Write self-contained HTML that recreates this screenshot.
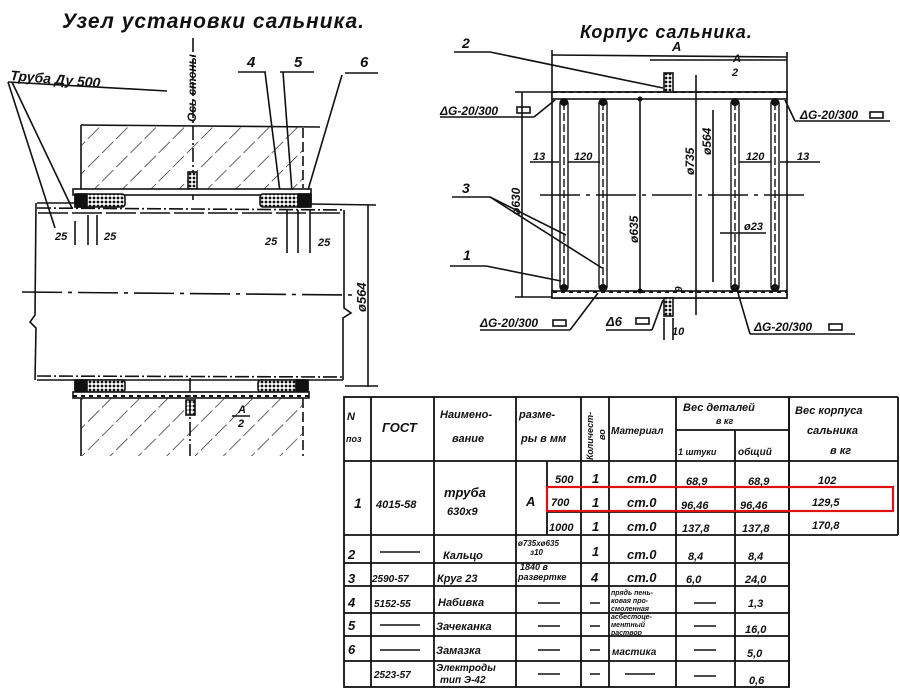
<!DOCTYPE html>
<html><head><meta charset="utf-8"><style>
body{margin:0;background:#fff;}
svg{display:block;}
text{font-family:"Liberation Sans",sans-serif;font-style:italic;font-weight:bold;fill:#111;}
</style></head><body>
<svg width="900" height="700" viewBox="0 0 900 700" xmlns="http://www.w3.org/2000/svg">
<defs>
<pattern id="h" width="20" height="20" patternUnits="userSpaceOnUse" patternTransform="rotate(45)">
<line x1="0" y1="0" x2="0" y2="20" stroke="#222" stroke-width="1.4" stroke-dasharray="16 4"/></pattern>
<pattern id="x" width="4" height="4" patternUnits="userSpaceOnUse">
<rect width="4" height="4" fill="#fff"/><circle cx="2" cy="2" r="1.4" fill="#111"/></pattern>
<pattern id="s" width="8" height="8" patternUnits="userSpaceOnUse">
<rect width="8" height="8" fill="#fff"/><line x1="1" y1="4" x2="5" y2="4" stroke="#111" stroke-width="2"/></pattern>
</defs>
<g stroke="#111" fill="none" stroke-width="1.6">
<!-- LEFT DRAWING -->
<text x="62" y="28" font-size="21" stroke="none" letter-spacing="1">Узел установки сальника.</text>
<text x="0" y="0" font-size="12" stroke="none" transform="translate(196,122) rotate(-90)">Ось стены</text>
<line x1="193" y1="38" x2="193" y2="200" stroke-dasharray="14 3 2 3"/>
<text x="10" y="80" font-size="14" stroke="none" transform="rotate(5 10 80)">Труба Ду 500</text>
<line x1="8" y1="82" x2="167" y2="91"/>
<line x1="8" y1="82" x2="55" y2="228"/><line x1="12" y1="82" x2="72" y2="208"/>
<text x="247" y="67" font-size="15" stroke="none">4</text><line x1="238" y1="72" x2="266" y2="72"/>
<text x="294" y="67" font-size="15" stroke="none">5</text><line x1="280" y1="72" x2="314" y2="72"/>
<text x="360" y="67" font-size="15" stroke="none">6</text><line x1="345" y1="73" x2="378" y2="73"/>
<line x1="265" y1="72" x2="280" y2="192"/><line x1="283" y1="72" x2="292" y2="192"/><line x1="342" y1="75" x2="308" y2="190"/>
<rect x="81" y="125" width="222" height="64" fill="url(#h)" stroke="none"/>
<line x1="81" y1="125" x2="320" y2="127"/><line x1="81" y1="125" x2="81" y2="189"/>
<line x1="303" y1="128" x2="303" y2="188" stroke-dasharray="10 4"/>
<rect x="188" y="172" width="9" height="17" fill="url(#x)"/>
<rect x="73" y="189" width="238" height="6" fill="url(#s)"/>
<rect x="75" y="194" width="50" height="13" rx="3" fill="url(#x)"/><rect x="75" y="194" width="12" height="13" fill="#111"/>
<rect x="260" y="194" width="51" height="13" rx="3" fill="url(#x)"/><rect x="298" y="194" width="13" height="13" fill="#111"/>
<line x1="37" y1="203" x2="75" y2="203"/><line x1="311" y1="204" x2="376" y2="205"/>
<line x1="37" y1="208" x2="345" y2="210" stroke-dasharray="14 3 2 3"/>
<line x1="38" y1="213" x2="345" y2="213" stroke-dasharray="30 4"/>
<path d="M36 203 L35 315 L30 322 L36 328 L35 380"/>
<path d="M344 210 L344 308 L351 313 L343 318 L343 380"/>
<line x1="22" y1="292" x2="352" y2="295" stroke-dasharray="40 6 4 6"/>
<line x1="368" y1="205" x2="368" y2="387"/>
<text x="0" y="0" font-size="13" stroke="none" transform="translate(366,312) rotate(-90)">ø564</text>
<line x1="345" y1="386" x2="378" y2="386"/>
<line x1="75" y1="221" x2="75" y2="245"/><line x1="88" y1="215" x2="88" y2="245"/><line x1="97" y1="215" x2="97" y2="245"/>
<text x="55" y="240" font-size="11" stroke="none">25</text><text x="104" y="240" font-size="11" stroke="none">25</text>
<line x1="287" y1="210" x2="287" y2="253"/><line x1="298" y1="210" x2="298" y2="253"/><line x1="310" y1="210" x2="310" y2="253"/>
<text x="265" y="245" font-size="11" stroke="none">25</text><text x="318" y="246" font-size="11" stroke="none">25</text>
<!-- bottom -->
<line x1="37" y1="376" x2="343" y2="377" stroke-dasharray="14 3 2 3"/>
<line x1="37" y1="380" x2="343" y2="380"/>
<rect x="75" y="380" width="50" height="12" rx="3" fill="url(#x)"/><rect x="75" y="380" width="12" height="12" fill="#111"/>
<rect x="258" y="380" width="50" height="12" rx="3" fill="url(#x)"/><rect x="296" y="380" width="12" height="12" fill="#111"/>
<rect x="73" y="392" width="236" height="6" fill="url(#s)"/>
<rect x="81" y="398" width="222" height="58" fill="url(#h)" stroke="none"/>
<line x1="81" y1="398" x2="81" y2="456"/><line x1="303" y1="398" x2="303" y2="456" stroke-dasharray="10 4"/>
<rect x="186" y="400" width="9" height="15" fill="url(#x)"/>
<line x1="190" y1="378" x2="190" y2="456" stroke-dasharray="14 3 2 3"/>
<text x="238" y="413" font-size="11" stroke="none">A</text><line x1="232" y1="416" x2="250" y2="416"/><text x="238" y="427" font-size="11" stroke="none">2</text>

<!-- RIGHT DRAWING -->
<text x="580" y="38" font-size="18" stroke="none" letter-spacing="1">Корпус сальника.</text>
<text x="462" y="48" font-size="14" stroke="none">2</text><line x1="454" y1="52" x2="490" y2="52"/>
<line x1="490" y1="52" x2="663" y2="88"/>
<line x1="552" y1="55" x2="787" y2="57"/><text x="672" y="51" font-size="13" stroke="none">A</text>
<line x1="650" y1="60" x2="787" y2="60"/><text x="733" y="62" font-size="11" stroke="none">A</text><text x="732" y="76" font-size="11" stroke="none">2</text>
<line x1="552" y1="50" x2="552" y2="92"/><line x1="787" y1="52" x2="787" y2="92"/>
<rect x="552" y="92" width="235" height="206"/>
<rect x="552" y="92" width="235" height="7" fill="url(#s)"/>
<rect x="552" y="291" width="235" height="7" fill="url(#s)"/>
<rect x="664" y="73" width="9" height="19" fill="url(#x)"/>
<rect x="664" y="298" width="9" height="18" fill="url(#x)"/>
<g stroke-width="1.4">
<rect x="560" y="100" width="8" height="190" rx="3"/><line x1="564" y1="102" x2="564" y2="288" stroke-dasharray="8 3"/>
<rect x="599" y="100" width="8" height="190" rx="3"/><line x1="603" y1="102" x2="603" y2="288" stroke-dasharray="8 3"/>
<rect x="731" y="100" width="8" height="190" rx="3"/><line x1="735" y1="102" x2="735" y2="288" stroke-dasharray="8 3"/>
<rect x="771" y="100" width="8" height="190" rx="3"/><line x1="775" y1="102" x2="775" y2="288" stroke-dasharray="8 3"/>
</g>
<g fill="#111" stroke="none">
<circle cx="564" cy="102" r="4"/><circle cx="564" cy="288" r="4"/><circle cx="603" cy="102" r="4"/><circle cx="603" cy="288" r="4"/>
<circle cx="735" cy="102" r="4"/><circle cx="735" cy="288" r="4"/><circle cx="775" cy="102" r="4"/><circle cx="775" cy="288" r="4"/>
<circle cx="640" cy="99" r="2.5"/><circle cx="640" cy="291" r="2.5"/>
</g>
<line x1="540" y1="195" x2="806" y2="195" stroke-dasharray="40 6 4 6"/>
<line x1="522" y1="92" x2="522" y2="297"/><line x1="515" y1="92" x2="552" y2="92"/><line x1="515" y1="297" x2="552" y2="297"/>
<text x="0" y="0" font-size="12" stroke="none" transform="translate(520,215) rotate(-90)">ø630</text>
<line x1="640" y1="100" x2="640" y2="290"/>
<text x="0" y="0" font-size="12" stroke="none" transform="translate(638,243) rotate(-90)">ø635</text>
<line x1="696" y1="75" x2="696" y2="315"/>
<text x="0" y="0" font-size="12" stroke="none" transform="translate(694,175) rotate(-90)">ø735</text>
<line x1="713" y1="110" x2="713" y2="282"/>
<text x="0" y="0" font-size="12" stroke="none" transform="translate(711,155) rotate(-90)">ø564</text>
<text x="440" y="115" font-size="12" stroke="none">ΔG-20/300</text><rect x="517" y="107" width="13" height="6"/>
<line x1="440" y1="117" x2="534" y2="117"/><line x1="534" y1="117" x2="555" y2="100"/>
<text x="800" y="119" font-size="12" stroke="none">ΔG-20/300</text><rect x="870" y="112" width="13" height="6"/>
<line x1="795" y1="121" x2="890" y2="121"/><line x1="795" y1="121" x2="785" y2="100"/>
<text x="480" y="327" font-size="12" stroke="none">ΔG-20/300</text><rect x="553" y="320" width="13" height="6"/>
<line x1="480" y1="330" x2="570" y2="330"/><line x1="570" y1="330" x2="598" y2="293"/>
<text x="754" y="331" font-size="12" stroke="none">ΔG-20/300</text><rect x="829" y="324" width="13" height="6"/>
<line x1="750" y1="334" x2="855" y2="334"/><line x1="750" y1="334" x2="738" y2="293"/>
<text x="606" y="326" font-size="13" stroke="none">Δ6</text><rect x="636" y="318" width="13" height="6"/>
<line x1="606" y1="330" x2="652" y2="330"/><line x1="652" y1="330" x2="663" y2="300"/>
<text x="672" y="335" font-size="11" stroke="none">10</text><line x1="664" y1="318" x2="664" y2="340"/><line x1="673" y1="318" x2="673" y2="340"/>
<text x="0" y="0" font-size="10" stroke="none" transform="translate(682,292) rotate(-90)">9</text>
<text x="533" y="160" font-size="11" stroke="none">13</text><line x1="530" y1="162" x2="559" y2="162"/>
<text x="574" y="160" font-size="11" stroke="none">120</text><line x1="568" y1="162" x2="600" y2="162"/>
<text x="746" y="160" font-size="11" stroke="none">120</text><line x1="739" y1="162" x2="771" y2="162"/>
<text x="797" y="160" font-size="11" stroke="none">13</text><line x1="780" y1="162" x2="820" y2="162"/>
<text x="744" y="230" font-size="11" stroke="none">ø23</text><line x1="720" y1="233" x2="766" y2="233"/>
<text x="462" y="193" font-size="14" stroke="none">3</text><line x1="452" y1="197" x2="490" y2="197"/>
<line x1="490" y1="197" x2="566" y2="235"/><line x1="490" y1="197" x2="602" y2="268"/>
<text x="463" y="260" font-size="14" stroke="none">1</text><line x1="450" y1="266" x2="486" y2="266"/>
<line x1="486" y1="266" x2="561" y2="281"/>

<!-- TABLE -->
<g stroke-width="1.8">
<rect x="344" y="397" width="445" height="290"/>
<line x1="789" y1="397" x2="898" y2="397"/><line x1="898" y1="397" x2="898" y2="535"/><line x1="789" y1="535" x2="898" y2="535"/>
<line x1="371" y1="397" x2="371" y2="687"/><line x1="434" y1="397" x2="434" y2="687"/>
<line x1="516" y1="397" x2="516" y2="687"/><line x1="547" y1="461" x2="547" y2="535"/>
<line x1="581" y1="397" x2="581" y2="687"/><line x1="609" y1="397" x2="609" y2="687"/>
<line x1="676" y1="397" x2="676" y2="687"/><line x1="735" y1="430" x2="735" y2="687"/>
<line x1="789" y1="397" x2="789" y2="687"/>
<line x1="676" y1="430" x2="789" y2="430"/>
<line x1="344" y1="461" x2="898" y2="461"/>
<line x1="547" y1="487" x2="789" y2="487"/><line x1="547" y1="512" x2="789" y2="512"/>
<line x1="344" y1="535" x2="789" y2="535"/>
<line x1="344" y1="563" x2="789" y2="563"/><line x1="344" y1="586" x2="789" y2="586"/>
<line x1="344" y1="613" x2="789" y2="613"/><line x1="344" y1="636" x2="789" y2="636"/>
<line x1="344" y1="661" x2="789" y2="661"/>
</g>
<rect x="547" y="487" width="346" height="24" stroke="#e01010" stroke-width="2.2"/>
</g>
<g font-size="11" stroke="none">
<text x="347" y="420">N</text><text x="346" y="442" font-size="9">поз</text>
<text x="382" y="432" font-size="13">ГОСТ</text>
<text x="440" y="418">Наимено-</text><text x="452" y="442">вание</text>
<text x="519" y="418">разме-</text><text x="521" y="442">ры в мм</text>
<text x="0" y="0" font-size="9" transform="translate(593,460) rotate(-90)">Количест-</text><text x="0" y="0" font-size="9" transform="translate(605,440) rotate(-90)">во</text>
<text x="611" y="434" font-size="10">Материал</text>
<text x="683" y="411">Вес деталей</text><text x="716" y="424" font-size="9">в кг</text>
<text x="678" y="455" font-size="9">1 штуки</text><text x="738" y="455" font-size="10">общий</text>
<text x="795" y="414">Вес корпуса</text><text x="807" y="434">сальника</text><text x="830" y="454">в кг</text>
<text x="354" y="508" font-size="14">1</text><text x="376" y="508">4015-58</text>
<text x="444" y="497" font-size="13">труба</text><text x="447" y="515">630х9</text>
<text x="526" y="506" font-size="13">A</text>
<text x="555" y="483">500</text><text x="551" y="506">700</text><text x="549" y="531">1000</text>
<text x="592" y="483" font-size="13">1</text><text x="592" y="507" font-size="13">1</text><text x="592" y="531" font-size="13">1</text>
<text x="627" y="483" font-size="13">ст.0</text><text x="627" y="507" font-size="13">ст.0</text><text x="627" y="531" font-size="13">ст.0</text>
<text x="686" y="485">68,9</text><text x="681" y="509">96,46</text><text x="682" y="532">137,8</text>
<text x="748" y="485">68,9</text><text x="740" y="509">96,46</text><text x="742" y="532">137,8</text>
<text x="818" y="484">102</text><text x="812" y="506">129,5</text><text x="812" y="529">170,8</text>
<text x="348" y="559" font-size="13">2</text><line x1="380" y1="552" x2="420" y2="552" stroke="#111" stroke-width="1.5"/>
<text x="443" y="559">Кальцо</text><text x="518" y="546" font-size="8">ø735хø635</text><text x="530" y="555" font-size="8">з10</text>
<text x="592" y="556" font-size="13">1</text><text x="627" y="559" font-size="13">ст.0</text>
<text x="688" y="560">8,4</text><text x="748" y="560">8,4</text>
<text x="348" y="583" font-size="13">3</text><text x="372" y="582" font-size="10">2590-57</text><text x="437" y="582">Круг 23</text>
<text x="520" y="570" font-size="9">1840 в</text><text x="518" y="580" font-size="9">развертке</text>
<text x="591" y="582" font-size="13">4</text><text x="627" y="582" font-size="13">ст.0</text>
<text x="686" y="583">6,0</text><text x="745" y="583">24,0</text>
<text x="348" y="607" font-size="13">4</text><text x="374" y="607" font-size="10">5152-55</text><text x="438" y="606">Набивка</text>
<line x1="538" y1="603" x2="560" y2="603" stroke="#111" stroke-width="1.5"/><line x1="590" y1="603" x2="600" y2="603" stroke="#111" stroke-width="1.5"/>
<text x="611" y="595" font-size="7">прядь пень-</text><text x="611" y="603" font-size="7">ковая про-</text><text x="611" y="611" font-size="7">смоленная</text>
<line x1="694" y1="603" x2="716" y2="603" stroke="#111" stroke-width="1.5"/><text x="748" y="607">1,3</text>
<text x="348" y="630" font-size="13">5</text><line x1="380" y1="625" x2="420" y2="625" stroke="#111" stroke-width="1.5"/><text x="436" y="630">Зачеканка</text>
<line x1="538" y1="626" x2="560" y2="626" stroke="#111" stroke-width="1.5"/><line x1="590" y1="626" x2="600" y2="626" stroke="#111" stroke-width="1.5"/>
<text x="611" y="619" font-size="7">асбестоце-</text><text x="611" y="627" font-size="7">ментный</text><text x="611" y="635" font-size="7">раствор</text>
<line x1="694" y1="626" x2="716" y2="626" stroke="#111" stroke-width="1.5"/><text x="745" y="633">16,0</text>
<text x="348" y="654" font-size="13">6</text><line x1="380" y1="650" x2="420" y2="650" stroke="#111" stroke-width="1.5"/><text x="436" y="654">Замазка</text>
<line x1="538" y1="650" x2="560" y2="650" stroke="#111" stroke-width="1.5"/><line x1="590" y1="650" x2="600" y2="650" stroke="#111" stroke-width="1.5"/>
<text x="612" y="655" font-size="10">мастика</text><line x1="694" y1="650" x2="716" y2="650" stroke="#111" stroke-width="1.5"/><text x="747" y="657">5,0</text>
<text x="374" y="678" font-size="10">2523-57</text><text x="436" y="671" font-size="10">Электроды</text><text x="440" y="683" font-size="10">тип Э-42</text>
<line x1="538" y1="674" x2="560" y2="674" stroke="#111" stroke-width="1.5"/><line x1="590" y1="674" x2="600" y2="674" stroke="#111" stroke-width="1.5"/>
<line x1="625" y1="674" x2="655" y2="674" stroke="#111" stroke-width="1.5"/><line x1="694" y1="676" x2="716" y2="676" stroke="#111" stroke-width="1.5"/>
<text x="749" y="684">0,6</text>
</g>
</svg>
</body></html>
